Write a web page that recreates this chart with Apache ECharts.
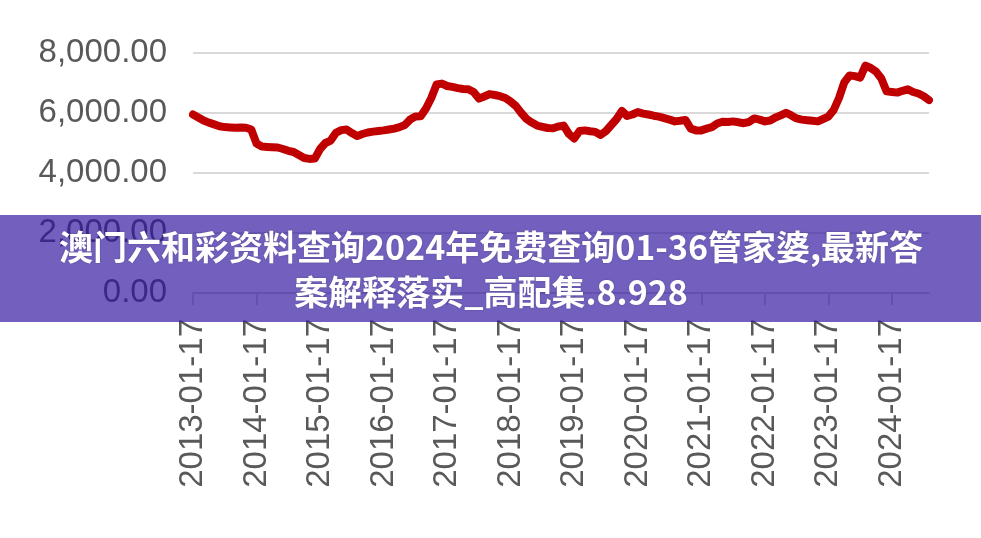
<!DOCTYPE html>
<html>
<head>
<meta charset="utf-8">
<script src="https://cdn.jsdelivr.net/npm/echarts@6/dist/echarts.min.js"></script>
<style>
html,body{margin:0;padding:0;background:#fff;}
#chart{width:981px;height:538px;}
</style>
</head>
<body>
<div id="chart"></div>
<script>
// Monthly dates from 2013-01-17 to 2024-08-17
var startYear = 2013, monthCount = 140;
var categories = [];
for (var i = 0; i < monthCount; i++) {
  var y = startYear + Math.floor(i / 12), m = (i % 12) + 1;
  categories.push(y + '-' + (m < 10 ? '0' + m : m) + '-17');
}
// Values, one per month
var values2013 = [5950, 5850, 5750, 5680, 5620, 5560, 5530, 5520, 5510, 5520, 5510, 5450];
var values2014 = [4980, 4880, 4870, 4860, 4850, 4800, 4740, 4700, 4600, 4500, 4470, 4480];
var values2015 = [4800, 5000, 5080, 5340, 5430, 5450, 5330, 5230, 5300, 5350, 5380, 5400];
var values2016 = [5420, 5450, 5480, 5530, 5600, 5780, 5880, 5890, 6150, 6500, 6950, 6980];
var values2017 = [6900, 6870, 6830, 6800, 6790, 6700, 6480, 6550, 6630, 6600, 6560, 6500];
var values2018 = [6380, 6230, 6000, 5800, 5680, 5580, 5540, 5500, 5490, 5550, 5580, 5300];
var values2019 = [5150, 5400, 5420, 5390, 5370, 5270, 5400, 5600, 5800, 6070, 5900, 5950];
var values2020 = [6030, 5980, 5950, 5910, 5880, 5830, 5780, 5720, 5740, 5770, 5480, 5420];
var values2021 = [5420, 5480, 5530, 5650, 5710, 5700, 5720, 5690, 5660, 5700, 5820, 5780];
var values2022 = [5720, 5750, 5850, 5920, 6010, 5920, 5820, 5780, 5760, 5740, 5720, 5800];
var values2023 = [5880, 6100, 6500, 7020, 7250, 7230, 7180, 7580, 7500, 7380, 7150, 6720];
var values2024 = [6700, 6680, 6740, 6790, 6700, 6650, 6560, 6430];
var values = [].concat(values2013, values2014, values2015, values2016, values2017, values2018,
  values2019, values2020, values2021, values2022, values2023, values2024);

var yMin = 0, yMax = 8000, yInterval = 2000;
var bannerLine1 = '澳门六和彩资料查询2024年免费查询01-36管家婆,最新答';
var bannerLine2 = '案解释落实_高配集.8.928';

var chart = echarts.init(document.getElementById('chart'));
chart.setOption({
  animation: false,
  backgroundColor: '#ffffff',
  grid: {left: 193, right: 52, top: 53, bottom: 245, containLabel: false},
  xAxis: {
    type: 'category',
    data: categories,
    boundaryGap: false,
    axisLine: {show: true, lineStyle: {color: '#d0d0d0', width: 2}},
    axisTick: {show: true, interval: 11, length: 12, lineStyle: {color: '#d0d0d0', width: 2}},
    axisLabel: {
      interval: 11, rotate: 90, margin: 26,
      color: '#595959', fontFamily: 'Liberation Sans', fontSize: 33
    },
    splitLine: {show: false}
  },
  yAxis: {
    type: 'value',
    min: yMin, max: yMax, interval: yInterval,
    axisLine: {show: false},
    axisTick: {show: false},
    axisLabel: {
      margin: 26, color: '#595959', fontFamily: 'Liberation Sans', fontSize: 33,
      formatter: function (v) {
        return v.toLocaleString('en-US', {minimumFractionDigits: 2, maximumFractionDigits: 2});
      }
    },
    splitLine: {lineStyle: {color: '#d9d9d9', width: 2}}
  },
  series: [{
    type: 'line',
    data: values,
    showSymbol: false,
    smooth: false,
    lineStyle: {color: '#c00000', width: 8, join: 'round', cap: 'round'},
    z: 3
  }],
  graphic: [
    {type: 'rect', z: 100, shape: {x: 0, y: 215, width: 981, height: 107},
      style: {fill: 'rgba(46,18,158,0.67)'}},
    {type: 'text', z: 101, x: 491, y: 247,
      style: {text: bannerLine1, fill: '#ffffff', font: 'bold 34px "Noto Sans CJK SC"',
        textAlign: 'center', textVerticalAlign: 'middle',
        textShadowColor: 'rgba(0,0,0,0.25)', textShadowBlur: 2}},
    {type: 'text', z: 101, x: 491, y: 292,
      style: {text: bannerLine2, fill: '#ffffff', font: 'bold 34px "Noto Sans CJK SC"',
        textAlign: 'center', textVerticalAlign: 'middle',
        textShadowColor: 'rgba(0,0,0,0.25)', textShadowBlur: 2}}
  ]
});
</script>
</body>
</html>
